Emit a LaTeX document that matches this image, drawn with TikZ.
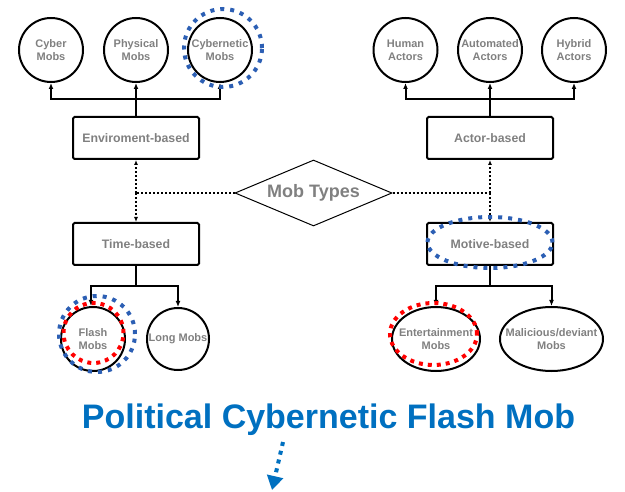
\documentclass[tikz,border=0pt]{standalone}
\usepackage{fontspec}
\setmainfont{Liberation Sans}
\usetikzlibrary{shapes.geometric,arrows.meta,calc}
\definecolor{txtgray}{RGB}{128,128,128}
\definecolor{hlblue}{RGB}{44,95,180}
\definecolor{hlred}{RGB}{255,0,0}
\definecolor{titleblue}{RGB}{0,112,192}
\tikzset{
  circnode/.style={circle,draw,line width=2pt,minimum size=64pt,inner sep=0pt,align=center,text=txtgray,font=\fontsize{11}{13}\selectfont\bfseries},
  ellnode/.style={ellipse,draw,line width=2pt,inner ysep=0pt,inner xsep=-16pt,align=center,text=txtgray,font=\fontsize{11}{13}\selectfont\bfseries},
  boxnode/.style={rectangle,draw,line width=2pt,rounded corners=1.5pt,minimum width=126pt,minimum height=42pt,text=txtgray,font=\fontsize{12.3}{14}\selectfont\bfseries},
  conn/.style={line width=2pt,-{Latex[length=6pt,width=5pt]}},
  connplain/.style={line width=2pt},
  dotconn/.style={line width=1.1pt,dash pattern=on 2pt off 2pt,-{Latex[length=5pt,width=4pt]}},
  dotplain/.style={line width=1.1pt,dash pattern=on 2pt off 2pt},
  bluehl/.style={draw=hlblue,line width=4pt,dash pattern=on 4pt off 6pt,inner sep=0pt,fill=none},
  redhl/.style={draw=hlred,line width=4pt,dash pattern=on 4pt off 5pt,inner sep=0pt,fill=none},
}
\begin{document}
\begin{tikzpicture}[x=1pt,y=-1pt]
\useasboundingbox (0,0) rectangle (625,492);
% top-left
\node[circnode] (cyber) at (51,50) {Cyber\\Mobs};
\node[circnode] (phys) at (136,50) {Physical\\Mobs};
\node[circnode] (cybn) at (220,50) {Cybernetic\\Mobs};
\node[boxnode] (env) at (136,138) {Enviroment-based};
\coordinate (lbar) at (136,99);
\draw[conn] (env.north) -- (phys.south);
\draw[conn] (phys.south |- lbar) -| (cyber.south);
\draw[conn] (phys.south |- lbar) -| (cybn.south);
% top-right
\node[circnode] (human) at (405.5,50) {Human\\Actors};
\node[circnode] (auto) at (490,50) {Automated\\Actors};
\node[circnode] (hyb) at (574,50) {Hybrid\\Actors};
\node[boxnode] (actor) at (490,138) {Actor-based};
\coordinate (rbar) at (490,99);
\draw[conn] (actor.north) -- (auto.south);
\draw[conn] (auto.south |- rbar) -| (human.south);
\draw[conn] (auto.south |- rbar) -| (hyb.south);
% center diamond
\node[diamond,draw,line width=1pt,aspect=2.4,minimum width=157pt,minimum height=66pt,inner sep=0pt,text=txtgray,font=\fontsize{18}{20}\selectfont\bfseries] (mt) at (313.5,193) {Mob Types};
\node[boxnode] (time) at (136,244) {Time-based};
\node[boxnode] (motive) at (490,244) {Motive-based};
\coordinate (lj) at (env.south |- mt.west);
\coordinate (rj) at (actor.south |- mt.east);
\draw[dotplain] (mt.west) -- (lj);
\draw[dotplain] (mt.east) -- (rj);
\draw[dotconn] (lj) -- (env.south);
\draw[dotconn] (lj) -- (time.north);
\draw[dotconn] (rj) -- (actor.south);
\draw[dotconn] (rj) -- (motive.north);
% bottom-left
\node[circnode] (flash) at (93,339) {Flash\\Mobs};
\node[circnode,minimum size=62pt] (long) at (178,339) {Long Mobs};
\coordinate (tbar) at (136,286);
\draw[connplain] (time.south) -- (time.south |- tbar);
\draw[conn] (time.south |- tbar) -| ([xshift=-2pt]flash.north);
\draw[conn] (time.south |- tbar) -| (long.north);
% bottom-right
\node[ellnode,minimum width=88pt,minimum height=64pt] (ent) at (436,339) {Entertainment\\Mobs};
\node[ellnode,minimum width=103pt,minimum height=64pt] (mal) at (551.5,339) {Malicious/deviant\\Mobs};
\coordinate (mbar) at (490,286);
\draw[connplain] (motive.south) -- (motive.south |- mbar);
\draw[conn] (motive.south |- mbar) -| (ent.north);
\draw[conn] (motive.south |- mbar) -| (mal.north);
% highlights
\node[bluehl,circle,minimum size=78pt] (hlcyb) at (223,48) {};
\node[redhl,circle,minimum size=60pt] (hlflashr) at (93.5,333) {};
\node[bluehl,circle,minimum size=76pt] (hlflashb) at (97,334) {};
\node[bluehl,ellipse,minimum width=125pt,minimum height=51pt] (hlmot) at (490,242.5) {};
\node[redhl,ellipse,minimum width=87pt,minimum height=62pt] (hlent) at (433.5,334) {};
% title
\node[text=titleblue,font=\fontsize{34}{38}\selectfont\bfseries,inner sep=0pt] (title) at (328.5,420) {Political Cybernetic Flash Mob};
\coordinate (as) at (283,442);
\coordinate (ae) at (272,490);
\draw[draw=titleblue,line width=4pt,dash pattern=on 4pt off 5pt,-{Triangle[length=14pt,width=16pt]}] (as) -- (ae);
\end{tikzpicture}
\end{document}
